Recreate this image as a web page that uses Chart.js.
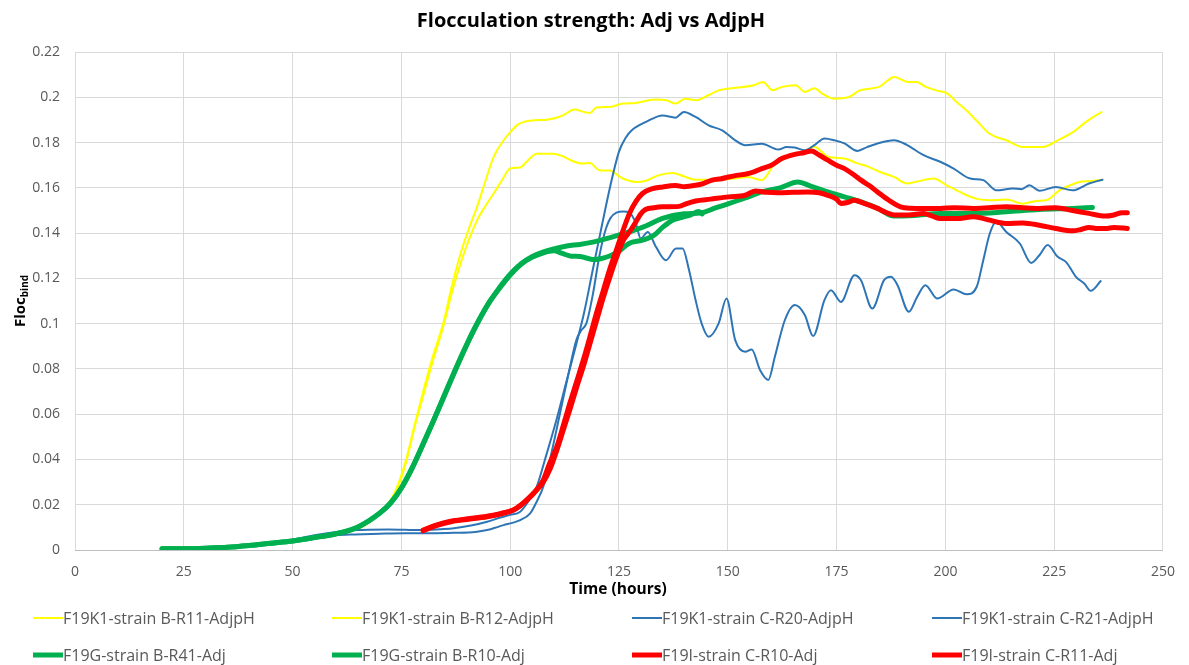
<!DOCTYPE html>
<html><head><meta charset="utf-8">
<script src="https://cdn.jsdelivr.net/npm/chart.js@4"></script>
<style>html,body{margin:0;padding:0;background:#fff}#wrap{width:1189px;height:665px}</style>
</head><body><div id="wrap"><canvas id="c" width="1189" height="665"></canvas></div>
<script>
// ---- data: [hours, Floc_bind] ----
const yellowB_R11 = [[20,0.0013],[25,0.0012],[30,0.0011],[35,0.0013],[40,0.0019],[45,0.0028],[50,0.0038],[55,0.005],[60,0.0068],[65,0.0095],[70,0.016],[72,0.0205],[73.5,0.0255],[75,0.033],[76.5,0.043],[78,0.055],[80,0.07],[82,0.084],[84.8,0.1015],[86.5,0.116],[88.6,0.131],[90.5,0.142],[92.4,0.1516],[94.3,0.163],[96.2,0.1737],[98.5,0.181],[100,0.1845],[101.5,0.1876],[103,0.189],[105.4,0.1898],[108,0.19],[110,0.1906],[112.1,0.192],[114.8,0.1946],[117,0.1935],[118.3,0.193],[119.8,0.1955],[122.8,0.1957],[125.9,0.1972],[128.9,0.1975],[133.2,0.199],[135.9,0.1987],[138,0.1972],[140.2,0.1994],[142.8,0.1987],[145.5,0.2009],[148,0.2031],[152.4,0.2043],[156,0.2053],[158.1,0.2068],[160.3,0.2031],[162.5,0.2046],[165.6,0.2053],[167.7,0.2024],[169.9,0.204],[171.7,0.2016],[174.3,0.1994],[177.8,0.2001],[180.4,0.2031],[184.8,0.2046],[188.3,0.209],[191.3,0.2068],[193.4,0.2068],[195.5,0.2046],[198,0.203],[200.5,0.2016],[202.5,0.198],[204.8,0.1943],[207.5,0.189],[210.1,0.184],[214,0.181],[218,0.178],[222.3,0.178],[225.8,0.181],[229.3,0.1846],[232.8,0.1898],[235.9,0.1935]];
const yellowB_R12 = [[20,0.0013],[25,0.0012],[30,0.001],[35,0.0012],[40,0.0018],[45,0.0027],[50,0.0037],[55,0.005],[60,0.0067],[65,0.0093],[70,0.0158],[72,0.0203],[73.5,0.025],[75,0.032],[76.5,0.042],[78,0.054],[80,0.068],[82,0.082],[84.8,0.1],[86.5,0.113],[88.6,0.1266],[90.5,0.137],[92.4,0.1457],[94.3,0.152],[96.2,0.1575],[98,0.163],[100,0.1685],[102.3,0.169],[104,0.172],[106.1,0.1751],[109.9,0.1751],[112,0.174],[113.9,0.1722],[116.5,0.1707],[118.3,0.171],[120.5,0.1678],[122.8,0.1676],[125.9,0.1641],[128.9,0.1626],[131,0.163],[134,0.1655],[137.3,0.1666],[140,0.165],[142.6,0.1636],[147.2,0.1636],[151,0.164],[154.7,0.1648],[157.8,0.1634],[160.8,0.1707],[163,0.173],[165.4,0.1744],[167.5,0.176],[169.9,0.1781],[171.5,0.176],[173,0.1737],[176.8,0.173],[179.5,0.171],[182.1,0.1695],[185,0.167],[188.2,0.1648],[191.2,0.1619],[193.5,0.1628],[197.3,0.1641],[200.3,0.1611],[202.5,0.159],[204.9,0.1567],[207.5,0.155],[210.2,0.1545],[214,0.1548],[217.8,0.153],[220.9,0.1542],[223.2,0.1545],[226.2,0.1589],[228.5,0.161],[230.8,0.1626],[233.5,0.163],[236.1,0.1636]];
const blueC_R20 = [[20,0.0005],[25,0.0005],[30,0.0008],[35,0.0012],[40,0.002],[45,0.003],[50,0.0045],[55,0.0065],[60,0.008],[64.3,0.0088],[72,0.0091],[79.5,0.0088],[84,0.0092],[87.1,0.0096],[91,0.0108],[94.7,0.0125],[98,0.0145],[100,0.0155],[102.3,0.0169],[104,0.021],[106.1,0.028],[108,0.04],[110.7,0.058],[113,0.075],[115.2,0.091],[117,0.105],[119,0.124],[120.5,0.138],[122,0.152],[123.5,0.165],[125,0.176],[126.5,0.182],[128,0.1855],[131.2,0.1891],[135,0.192],[138,0.191],[139.9,0.1935],[142.6,0.1913],[145.6,0.1876],[148.7,0.1854],[151.7,0.181],[154,0.1788],[157.8,0.1795],[161.6,0.1769],[163.5,0.178],[165.4,0.1778],[167.7,0.1766],[170,0.179],[172.2,0.1818],[174.5,0.181],[176.8,0.1796],[179.8,0.1763],[182,0.178],[184.4,0.1796],[188.2,0.181],[191.2,0.1789],[195,0.1744],[198.8,0.1715],[201.9,0.1685],[205.7,0.1641],[208.7,0.1634],[211.7,0.1589],[215.5,0.1597],[217.5,0.1594],[219.3,0.1611],[221.6,0.1587],[225.4,0.1604],[229.2,0.1589],[233,0.1619],[236.1,0.1636]];
const blueC_R21 = [[20,0.0005],[25,0.0005],[30,0.0008],[35,0.0012],[40,0.002],[45,0.003],[50,0.0043],[55,0.0058],[60,0.0066],[64.3,0.0069],[70,0.0072],[75.7,0.0074],[82,0.0074],[87.1,0.0076],[92,0.008],[94.7,0.0088],[96.5,0.0098],[98.5,0.011],[100.5,0.012],[102.3,0.0132],[104.6,0.0162],[106,0.021],[107.6,0.028],[109.5,0.043],[111.4,0.06],[113.3,0.077],[115.2,0.0927],[116.3,0.097],[117.5,0.1001],[119,0.113],[120.5,0.13],[122,0.142],[123,0.1465],[124.4,0.149],[126,0.1495],[127.4,0.149],[128.9,0.1442],[130,0.1376],[131.6,0.1405],[133.5,0.1339],[135.8,0.128],[138.1,0.1332],[139.6,0.1332],[141.1,0.1236],[142.6,0.1104],[144,0.1],[145.6,0.0942],[147.9,0.1001],[149.7,0.1111],[151.7,0.0927],[154,0.0876],[155.5,0.0886],[157.4,0.0795],[159.3,0.0751],[160.8,0.0853],[163.1,0.1015],[165.4,0.1082],[167.7,0.1038],[169.6,0.0945],[172.2,0.1104],[173.7,0.1148],[176,0.1096],[179.1,0.1214],[180.6,0.1192],[183.2,0.1067],[185.9,0.1192],[187.5,0.1207],[189,0.117],[191.6,0.1052],[193.5,0.1118],[195.4,0.117],[198.1,0.1111],[201.9,0.1151],[204.9,0.113],[207.2,0.1163],[208.7,0.128],[210.2,0.1398],[211.7,0.145],[214,0.1405],[217.1,0.1354],[219.7,0.1268],[221.6,0.1302],[223.5,0.1347],[225.8,0.1295],[227.7,0.1273],[230,0.1207],[231.9,0.1177],[233.4,0.1145],[235.7,0.1188]];
const greenB_R41 = [[20,0.0005],[25,0.0005],[30,0.0008],[35,0.0012],[40,0.002],[45,0.003],[50,0.004],[55,0.0055],[60,0.0072],[65,0.0102],[70,0.0163],[72.5,0.0208],[75,0.0275],[77.5,0.0365],[80,0.047],[82.5,0.0578],[85,0.069],[87.5,0.0802],[90,0.0908],[92.5,0.1005],[95,0.109],[97.5,0.1158],[100,0.1218],[102.5,0.1265],[105,0.1296],[107.5,0.1316],[110,0.133],[113,0.1343],[116,0.135],[119,0.136],[123,0.138],[127.3,0.1405],[131,0.143],[135,0.1465],[140,0.1485],[144,0.149],[147,0.151],[150.2,0.153],[154,0.1555],[157.8,0.1582],[162,0.16],[166.1,0.1626],[169,0.1608],[173,0.1582],[176.8,0.156],[180.6,0.1538],[184.4,0.151],[188.2,0.1475],[193,0.1478],[198.8,0.1486],[206.4,0.1486],[214,0.1494],[221.6,0.1504],[229.2,0.1509],[233.8,0.1513]];
const greenB_R10 = [[20,0.0005],[25,0.0005],[30,0.0008],[35,0.0012],[40,0.002],[45,0.003],[50,0.004],[55,0.0055],[60,0.0071],[65,0.0101],[70,0.0162],[72.5,0.0206],[75,0.0273],[77.5,0.0362],[80,0.0467],[82.5,0.0575],[85,0.0687],[87.5,0.0799],[90,0.0905],[92.5,0.1002],[95,0.1087],[97.5,0.1155],[100,0.1215],[102.5,0.1262],[105,0.1293],[107.5,0.1312],[110,0.1322],[112,0.131],[114,0.1298],[116,0.1297],[117.5,0.129],[119,0.1283],[121,0.1288],[123,0.13],[125,0.132],[127.3,0.1354],[130.4,0.1369],[133,0.139],[135,0.1425],[137.3,0.1457],[139.5,0.147],[141.5,0.148],[143.3,0.1495],[144.1,0.1485]];
const redC_R10 = [[80,0.0085],[83,0.0108],[86.3,0.0125],[90,0.0135],[94.7,0.0147],[98,0.016],[100.8,0.0177],[102.5,0.02],[103.8,0.022],[105.4,0.025],[107.6,0.0309],[109,0.038],[110.7,0.0456],[112.2,0.055],[113.7,0.0648],[115.2,0.074],[116.8,0.0839],[118.3,0.094],[119.8,0.1045],[121.3,0.114],[122.8,0.1236],[124.4,0.1325],[125.9,0.141],[127.4,0.1487],[128.9,0.154],[130.4,0.1575],[132.5,0.1595],[135,0.1604],[138,0.161],[140,0.1605],[142.6,0.1611],[144.5,0.162],[146.4,0.1634],[148.5,0.164],[150.2,0.1648],[152,0.1655],[154,0.166],[156,0.167],[157.8,0.1685],[160,0.17],[162.4,0.1729],[165.4,0.1748],[167.5,0.1755],[169.2,0.1763],[171,0.1745],[173,0.1722],[175,0.17],[176.8,0.1685],[178.8,0.166],[180.6,0.1634],[182.5,0.161],[184.4,0.1582],[187,0.1545],[189.7,0.1516],[192,0.151],[195,0.1509],[198.8,0.1509],[202,0.1512],[206.4,0.1509],[210,0.1512],[214,0.1516],[217.8,0.1512],[221.6,0.1509],[225.4,0.1512],[229.2,0.15],[233,0.1487],[236.8,0.1475],[238.7,0.148],[240.6,0.149],[241.8,0.149]];
const redC_R11 = [[80,0.0088],[83,0.011],[86.3,0.0127],[90,0.0137],[94.7,0.0149],[98,0.0162],[100.8,0.0178],[102.5,0.0198],[104,0.0225],[105.8,0.026],[107.6,0.03],[109.2,0.036],[110.7,0.044],[112.2,0.053],[113.7,0.062],[115.2,0.0715],[116.8,0.081],[118.3,0.091],[119.8,0.101],[121.3,0.111],[122.8,0.12],[124.4,0.129],[125.9,0.1365],[127.4,0.1405],[128.9,0.145],[130,0.1485],[131.2,0.1505],[133,0.1512],[135,0.1516],[138.8,0.1518],[140.5,0.153],[142.6,0.1542],[146,0.155],[150.2,0.156],[154,0.1567],[156.3,0.1586],[159,0.158],[161.6,0.1578],[165,0.158],[168.4,0.1582],[171,0.1578],[173,0.1567],[175,0.155],[176,0.1531],[177.5,0.1535],[179,0.1545],[181.5,0.153],[184.4,0.1509],[186.5,0.149],[188.2,0.148],[191.5,0.148],[195,0.1486],[197,0.1475],[198.8,0.1464],[202.6,0.1464],[206.4,0.1472],[208,0.1468],[210.2,0.1457],[212,0.1448],[214,0.1442],[217.8,0.1445],[221.6,0.1435],[225.4,0.142],[229.2,0.141],[231,0.1415],[233,0.1425],[235,0.142],[236.8,0.142],[238.7,0.1425],[241.8,0.142]];

const seriesLabels = ['F19K1-strain B-R11-AdjpH','F19K1-strain B-R12-AdjpH','F19K1-strain C-R20-AdjpH','F19K1-strain C-R21-AdjpH','F19G-strain B-R41-Adj','F19G-strain B-R10-Adj','F19I-strain C-R10-Adj','F19I-strain C-R11-Adj'];
const seriesData = [yellowB_R11, yellowB_R12, blueC_R20, blueC_R21, greenB_R41, greenB_R10, redC_R10, redC_R11];
const xTicks = [0,25,50,75,100,125,150,175,200,225,250];
const yTicks = [0,0.02,0.04,0.06,0.08,0.1,0.12,0.14,0.16,0.18,0.2,0.22];

// ---- styles ----
const seriesColors = ['#FFFF00','#FFFF00','#2E75B6','#2E75B6','#00B050','#00B050','#FF0000','#FF0000'];
const seriesWidths = [2,2,2,2,5,5,5,5];
const seriesOrder = [7,6,5,4,3,2,1,0];
const FONT = '"Open Sans", "Liberation Sans", Arial, sans-serif';

const datasets = seriesData.map((pts, i) => ({
  label: seriesLabels[i],
  data: pts.map(p => ({x: p[0], y: p[1]})),
  borderColor: seriesColors[i],
  backgroundColor: seriesColors[i],
  borderWidth: seriesWidths[i],
  pointRadius: 0,
  fill: false,
  cubicInterpolationMode: 'monotone',
  borderCapStyle: 'round',
  borderJoinStyle: 'round',
  order: seriesOrder[i]
}));

const textPlugin = {
  id: 'texts',
  afterDraw(chart) {
    const ctx = chart.ctx;
    const area = chart.chartArea;
    ctx.save();
    // title
    ctx.fillStyle = '#000000';
    ctx.font = 'bold 20px ' + FONT;
    ctx.textAlign = 'center';
    ctx.textBaseline = 'middle';
    ctx.fillText('Flocculation strength: Adj vs AdjpH', 591, 21);
    // x title
    ctx.font = 'bold 15.5px ' + FONT;
    ctx.fillText('Time (hours)', 618, 590);
    // y title with subscript
    ctx.translate(25, (area.top + area.bottom) / 2);
    ctx.rotate(-Math.PI / 2);
    ctx.textAlign = 'left';
    ctx.textBaseline = 'alphabetic';
    ctx.font = 'bold 15px ' + FONT;
    const w1 = ctx.measureText('Floc').width;
    ctx.font = 'bold 10px ' + FONT;
    const w2 = ctx.measureText('bind').width;
    const start = -(w1 + w2) / 2;
    ctx.font = 'bold 15px ' + FONT;
    ctx.fillText('Floc', start, 0);
    ctx.font = 'bold 10px ' + FONT;
    ctx.fillText('bind', start + w1, 3);
    ctx.restore();
    // legend
    ctx.save();
    const colX = [33, 332, 632, 932];
    const rowY = [618, 655];
    ctx.font = '16px ' + FONT;
    ctx.textBaseline = 'middle';
    ctx.textAlign = 'left';
    chart.data.datasets.forEach((ds, i) => {
      const cx = colX[i % 4], cy = rowY[Math.floor(i / 4)];
      ctx.strokeStyle = ds.borderColor;
      ctx.lineWidth = ds.borderWidth;
      ctx.lineCap = 'butt';
      ctx.beginPath();
      ctx.moveTo(cx, cy);
      ctx.lineTo(cx + 30, cy);
      ctx.stroke();
      ctx.fillStyle = '#595959';
      ctx.fillText(ds.label, cx + 30, cy + 1);
    });
    ctx.restore();
  }
};

new Chart(document.getElementById('c'), {
  type: 'line',
  data: { datasets },
  plugins: [textPlugin],
  options: {
    responsive: false,
    animation: false,
    devicePixelRatio: 1,
    layout: { padding: { left: 0, right: 18, top: 52, bottom: 65 } },
    plugins: { legend: { display: false }, title: { display: false }, tooltip: { enabled: false } },
    scales: {
      x: {
        type: 'linear', min: xTicks[0], max: xTicks[xTicks.length - 1],
        afterBuildTicks(s) { s.ticks = xTicks.map(v => ({ value: v })); },
        ticks: { color: '#595959', font: { family: FONT, size: 14 }, padding: 14, maxRotation: 0, callback: v => String(v) },
        grid: { color: '#D9D9D9', drawTicks: false },
        border: { color: '#BFBFBF', width: 1 },
        afterFit(s) { s.height = 50; }
      },
      y: {
        type: 'linear', min: yTicks[0], max: yTicks[yTicks.length - 1],
        afterBuildTicks(s) { s.ticks = yTicks.map(v => ({ value: v })); },
        ticks: { color: '#595959', font: { family: FONT, size: 14 }, padding: 15, callback: v => String(+v.toFixed(2)) },
        grid: { color: '#D9D9D9', drawTicks: false },
        border: { display: false },
        afterFit(s) { s.width = 75; }
      }
    }
  }
});
</script></body></html>
